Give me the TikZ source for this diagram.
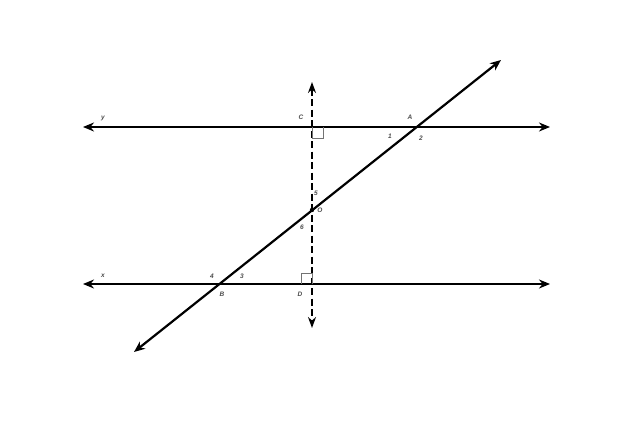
\documentclass[tikz,border=0pt]{standalone}
\usepackage{fontspec}
\setmainfont{Liberation Sans}
\usetikzlibrary{arrows.meta}
\begin{document}
\begin{tikzpicture}[x=1pt,y=-1pt,
  ln/.style={line width=2.2pt,{Stealth[length=11pt,width=9pt]}-{Stealth[length=11pt,width=9pt]}},
  dln/.style={line width=2pt,dash pattern=on 7pt off 3.5pt,{Stealth[length=11pt,width=8pt]}-{Stealth[length=11pt,width=8pt]}},
  lbl/.style={font=\fontsize{6.5}{6.5}\selectfont\bfseries\itshape,text=black!70,inner sep=0pt},
  sq/.style={draw=black!55,line width=0.8pt}]
\useasboundingbox (0,0) rectangle (640,425);
% coordinates
\coordinate (yl) at (83,127);
\coordinate (yr) at (550,127);
\coordinate (xl) at (83,284);
\coordinate (xr) at (550,284);
\coordinate (vt) at (312,82);
\coordinate (vb) at (312,328);
\coordinate (tl) at (134,352);
\coordinate (tr) at (501,60);
\coordinate (C) at (312,127);
\coordinate (D) at (312,284);
\coordinate (O) at (312,210);
% lines
\draw[ln] (yl) -- (yr);
\draw[ln] (xl) -- (xr);
\draw[dln] (vt) -- (vb);
\draw[ln] (tl) -- (tr);
% right angle marks
\draw[sq] (C) -- ++(0,11) -- ++(11,0) -- ++(0,-11);
\draw[sq] (D) -- ++(0,-11) -- ++(-11,0) -- ++(0,11);
\fill (O) circle (2.2pt);
% labels
\node[lbl] (ly) at (103,118) {y};
\node[lbl] (lC) at (301,117) {C};
\node[lbl] (lA) at (410,117) {A};
\node[lbl] (l1) at (390,136) {1};
\node[lbl] (l2) at (421,138) {2};
\node[lbl] (l5) at (316,193) {5};
\node[lbl] (lO) at (320,210) {O};
\node[lbl] (l6) at (302,227) {6};
\node[lbl] (lx) at (103,276) {x};
\node[lbl] (l4) at (212,276) {4};
\node[lbl] (l3) at (242,276) {3};
\node[lbl] (lB) at (222,294) {B};
\node[lbl] (lD) at (300,294) {D};
\end{tikzpicture}
\end{document}
